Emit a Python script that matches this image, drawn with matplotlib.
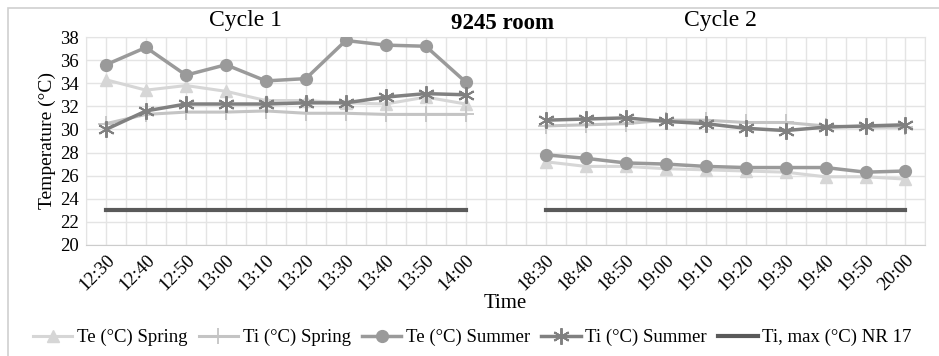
import numpy as np
import matplotlib.pyplot as plt
from matplotlib.patches import Rectangle

plt.rcParams['font.family'] = ['Liberation Serif', 'DejaVu Serif']

# time categories (blank slot between the two cycles)
times = ['12:30', '12:40', '12:50', '13:00', '13:10', '13:20', '13:30', '13:40', '13:50', '14:00', '',
         '18:30', '18:40', '18:50', '19:00', '19:10', '19:20', '19:30', '19:40', '19:50', '20:00']
nan = np.nan

te_spring = [34.3, 33.4, 33.8, 33.3, 32.5, 32.5, 32.3, 32.2, 32.8, 32.2, nan,
             27.2, 26.8, 26.8, 26.6, 26.5, 26.4, 26.3, 25.9, 25.9, 25.7]
ti_spring = [30.5, 31.3, 31.5, 31.5, 31.6, 31.4, 31.4, 31.3, 31.3, 31.3, nan,
             30.3, 30.4, 30.5, 30.8, 30.8, 30.6, 30.6, 30.3, 30.2, 30.2]
te_summer = [35.6, 37.1, 34.7, 35.6, 34.2, 34.4, 37.7, 37.3, 37.2, 34.1, nan,
             27.8, 27.5, 27.1, 27.0, 26.8, 26.7, 26.7, 26.7, 26.3, 26.4]
ti_summer = [30.0, 31.6, 32.2, 32.2, 32.2, 32.3, 32.3, 32.8, 33.1, 33.0, nan,
             30.8, 30.9, 31.0, 30.7, 30.5, 30.1, 29.9, 30.2, 30.3, 30.4]
ti_max = [23, 23, 23, 23, 23, 23, 23, 23, 23, 23, nan,
          23, 23, 23, 23, 23, 23, 23, 23, 23, 23]


def makeChart():
    fig = plt.figure(figsize=(9.39, 3.56), dpi=100)
    ax = fig.add_axes([0.0916, 0.312, 0.894, 0.584])
    x = np.arange(len(times))

    ax.plot(x, te_spring, color='#d6d6d6', lw=2.2, marker='^', ms=8, label='Te (°C) Spring', zorder=2)
    ax.plot(x, ti_spring, color='#c4c4c4', lw=2.2, marker='+', ms=12, mew=1.3, label='Ti (°C) Spring', zorder=2)
    ax.plot(x, te_summer, color='#9a9a9a', lw=2.5, marker='o', ms=8.5, label='Te (°C) Summer', zorder=3)
    ax.plot(x, ti_summer, color='#808080', lw=2.5, marker=(6, 2, 0), ms=12, mew=1.4,
            label='Ti (°C) Summer', zorder=3)
    ax.plot(x, ti_max, color='#5a5a5a', lw=3, label='Ti, max (°C) NR 17', zorder=3)

    ax.set_xlim(-0.5, len(times) - 0.5)
    ax.set_ylim(20, 38)
    ax.set_yticks(np.arange(20, 39, 2))
    ax.set_xticks(x)
    ax.set_xticks(np.arange(-0.5, len(times), 1), minor=True)
    ax.set_xticklabels(times, rotation=45, ha='right', rotation_mode='anchor', fontsize=13.5)
    ax.tick_params(axis='y', labelsize=13.5, length=0, pad=5)
    ax.tick_params(axis='x', which='both', length=0, pad=5)
    ax.grid(True, which='both', color='#e4e4e4', lw=1)
    ax.set_axisbelow(True)
    for s in ax.spines.values():
        s.set_color('#e4e4e4')
    ax.spines['bottom'].set_color('#cccccc')

    ax.set_ylabel('Temperature (°C)', fontsize=14, labelpad=3)
    ax.set_xlabel('Time', fontsize=15, labelpad=0)

    fig.text(0.261, 0.943, 'Cycle 1', fontsize=17, ha='center', va='center')
    fig.text(0.767, 0.943, 'Cycle 2', fontsize=17, ha='center', va='center')
    fig.text(0.535, 0.935, '9245 room', fontsize=16.5, fontweight='bold', ha='center', va='center')

    fig.legend(loc='center', bbox_to_anchor=(0.503, 0.052), ncol=5, frameon=False, fontsize=13.5,
               handlelength=2.1, columnspacing=0.6, handletextpad=0.25, borderpad=0.1)

    fig.patches.append(Rectangle((0.009, -0.1), 1.2, 1.078, transform=fig.transFigure,
                                 fill=False, edgecolor='#cfcfcf', lw=1.2))
    fig.savefig('out.png', dpi=100)


if __name__ == '__main__':
    makeChart()
